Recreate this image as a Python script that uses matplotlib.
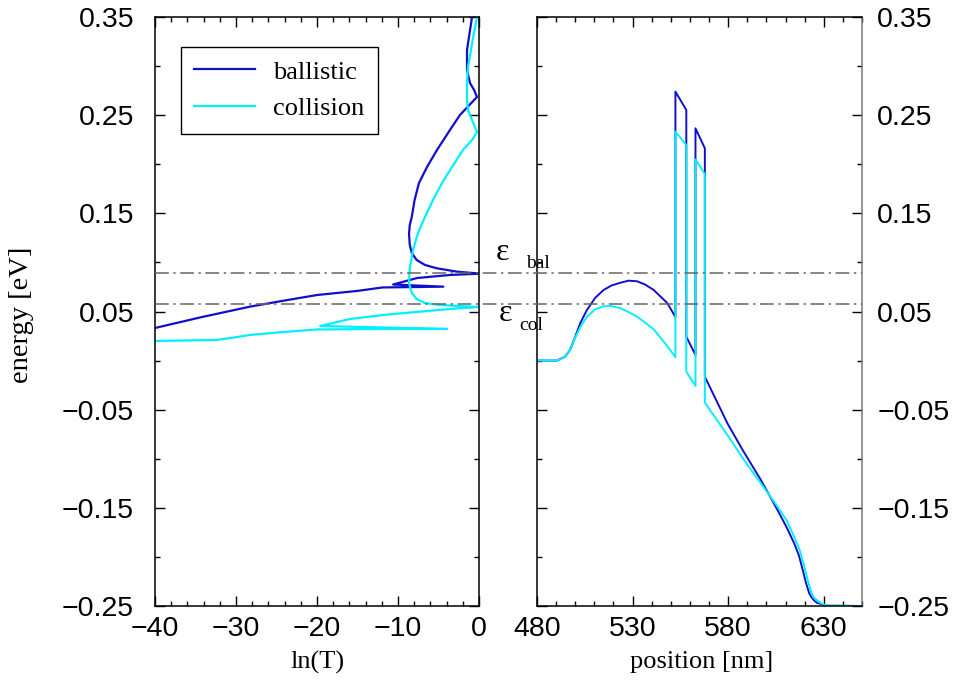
import matplotlib
matplotlib.use('Agg')
import matplotlib.pyplot as plt
import matplotlib.transforms as mtransforms
from matplotlib.lines import Line2D
from matplotlib.ticker import MultipleLocator, FuncFormatter

# left panel: ln(T) against energy, ordered by energy
bal_lnT = [-40, -34.4, -28.3, -24.0, -20.0, -15.0, -11.9, -4.4, -10.6, -7.65, -3.6, 0.0,
           -0.3, -2.75, -5.2, -6.67, -7.7, -8.3, -8.55, -8.64, -8.55, -8.3, -7.95, -7.41, -6.42, -5.19,
           -3.83, -2.35, -0.25, -0.6, -1.11, -1.48, -1.48, -0.86]
bal_E = [0.0332, 0.044, 0.0549, 0.0612, 0.0668, 0.071, 0.0745, 0.0753, 0.0775, 0.0841, 0.0872, 0.0885,
         0.0889, 0.0906, 0.094, 0.0974, 0.1025, 0.1096, 0.1180, 0.1290, 0.1380, 0.1463, 0.1636, 0.1809, 0.1972, 0.2145,
         0.2318, 0.2502, 0.2685, 0.2755, 0.2828, 0.296, 0.3164, 0.35]

col_lnT = [-40, -32.4, -30.0, -28.3, -24.2, -20.0, -12.0, -3.95, -19.6, -15.9, -11.9, -3.6, 0.0,
           -2.5, -4.8, -6.7, -7.7, -8.3, -8.64, -8.6, -8.52, -8.15, -7.53, -6.67, -5.68,
           -4.57, -3.33, -1.98, -0.86, -0.25, -0.86, -1.36, -1.48, -1.48, -1.36, -0.62, -0.25]
col_E = [0.0200, 0.0210, 0.0238, 0.0261, 0.0291, 0.0317, 0.0322, 0.0322, 0.0352, 0.0424, 0.0464, 0.0526, 0.0546,
         0.0556, 0.0566, 0.0587, 0.0627, 0.0689, 0.0790, 0.0870, 0.0953, 0.1127, 0.1300, 0.1463, 0.1636,
         0.1809, 0.1972, 0.2145, 0.2247, 0.2329, 0.2451, 0.2553, 0.2655, 0.2828, 0.2991, 0.3337, 0.35]

# right panel: band profile
pos_bal = [480, 490.5, 494.7, 497.3, 500.0, 502.6, 506.1, 510.4, 514.8, 519.0, 523.6, 527.9, 532.3,
           536.5, 541.0, 548.1, 552.4, 552.4, 558.1, 558.1, 562.9, 562.9, 567.8, 567.8,
           579.6, 588.0, 597.1, 605.8, 610.5, 614.5, 617.0, 619.0, 620.7, 622.4, 623.7, 625.0,
           626.5, 628.6, 630.0, 632.0, 650]
E_bal = [0.0, 0.0, 0.004, 0.0108, 0.0243, 0.038, 0.0515, 0.0638, 0.0719, 0.0765, 0.0793, 0.0814, 0.0808,
         0.0775, 0.072, 0.0587, 0.0444, 0.274, 0.2553, 0.0244, 0.0057, 0.2366, 0.2163, -0.0164,
         -0.0639, -0.0925, -0.1216, -0.1522, -0.1695, -0.1861, -0.1985, -0.2133, -0.2265, -0.2371, -0.2415, -0.2445,
         -0.2468, -0.2479, -0.249, -0.2497, -0.25]

pos_col = [480, 490.5, 494.7, 497.3, 500.0, 502.6, 506.1, 510.4, 514.8, 518.3, 523.6, 528.0, 532.3,
           536.5, 541.0, 548.1, 552.4, 552.4, 558.1, 558.1, 562.9, 562.9, 567.8, 567.8,
           579.6, 588.0, 597.1, 605.8, 610.5, 614.5, 617.5, 619.8, 621.6, 623.3, 624.7, 626.0,
           627.5, 628.6, 630.5, 632.0, 650]
E_col = [0.0, 0.0, 0.004, 0.0105, 0.0235, 0.034, 0.0447, 0.0522, 0.0552, 0.0558, 0.0533, 0.0494, 0.0447,
         0.0388, 0.0319, 0.0149, 0.0034, 0.2332, 0.2196, -0.0113, -0.0259, 0.205, 0.190, -0.0429,
         -0.0758, -0.1005, -0.125, -0.1488, -0.1625, -0.1794, -0.1935, -0.21, -0.2235, -0.2354, -0.2410, -0.2435,
         -0.2458, -0.2472, -0.2488, -0.2495, -0.25]

eps_bal = 0.0892
eps_col = 0.0576

blue = '#1010cc'
cyan = '#00f0ff'
gray = '#666666'
sans = ['Liberation Sans', 'DejaVu Sans']
serif = ['Liberation Serif', 'DejaVu Serif']

plt.rcParams['font.family'] = sans
plt.rcParams['axes.unicode_minus'] = True

fig = plt.figure(figsize=(9.54, 6.84), dpi=100)
ax1 = fig.add_axes([155 / 954, 78 / 684, 324 / 954, 589 / 684])
ax2 = fig.add_axes([537 / 954, 78 / 684, 325 / 954, 589 / 684])

ax1.plot(bal_lnT, bal_E, color=blue, lw=1.6, label='ballistic')
ax1.plot(col_lnT, col_E, color=cyan, lw=1.6, label='collision')
ax2.plot(pos_bal, E_bal, color=blue, lw=1.4)
ax2.plot(pos_col, E_col, color=cyan, lw=1.4)

fmt = FuncFormatter(lambda v, p: ('%.2f' % v).replace('-', '\u2212'))
xfmt = FuncFormatter(lambda v, p: ('%d' % round(v)).replace('-', '\u2212'))

for ax in (ax1, ax2):
    ax.set_ylim(-0.25, 0.35)
    ax.set_yticks([-0.25, -0.15, -0.05, 0.05, 0.15, 0.25, 0.35])
    ax.yaxis.set_minor_locator(MultipleLocator(0.05))
    ax.yaxis.set_major_formatter(fmt)
    ax.tick_params(which='both', direction='in', top=True, right=True, labelsize=20.5, width=1)
    ax.tick_params(which='major', length=7)
    ax.tick_params(which='minor', length=3.5)
    ax.tick_params(axis='x', pad=7)
    for s in ax.spines.values():
        s.set_linewidth(1.1)

ax1.tick_params(axis='y', pad=15)
ax2.tick_params(axis='y', pad=11)

ax1.set_xlim(-40, 0)
ax1.xaxis.set_major_locator(MultipleLocator(10))
ax1.xaxis.set_minor_locator(MultipleLocator(2))
ax1.xaxis.set_major_formatter(xfmt)

ax2.set_xlim(480, 650)
ax2.set_xticks([480, 530, 580, 630])
ax2.xaxis.set_minor_locator(MultipleLocator(10))
ax2.tick_params(labelleft=False, labelright=True)
ax2.spines['right'].set_color('#777777')

# dash-dot levels across both panels
trans = mtransforms.blended_transform_factory(fig.transFigure, ax1.transData)
for lev in (eps_bal, eps_col):
    fig.add_artist(Line2D([155 / 954, 862 / 954], [lev, lev], transform=trans,
                          color=gray, lw=1.1, linestyle=(0, (9, 3, 1.5, 3))))

leg = ax1.legend(loc='upper left', bbox_to_anchor=(0.08, 0.949), borderaxespad=0,
                 fancybox=False, edgecolor='black', framealpha=1,
                 prop={'family': serif, 'size': 19}, handlelength=2.3,
                 handletextpad=0.7, labelspacing=0.5, borderpad=0.5)
leg.get_frame().set_linewidth(1.0)

fig.text(22 / 954, 1 - 315 / 684, 'energy [eV]', rotation=90, ha='center', va='center',
         family=serif, fontsize=20.5)
fig.text(318 / 954, 1 - 662 / 684, 'ln(T)', ha='center', va='center', family=serif, fontsize=19)
fig.text(702 / 954, 1 - 662 / 684, 'position [nm]', ha='center', va='center', family=serif, fontsize=19)

fig.text(496 / 954, 1 - 252 / 684, '\u03b5', ha='left', va='center', family=serif, fontsize=23)
fig.text(526 / 954, 1 - 264 / 684, 'bal', ha='left', va='center', family=serif, fontsize=14)
fig.text(499 / 954, 1 - 314 / 684, '\u03b5', ha='left', va='center', family=serif, fontsize=23)
fig.text(519 / 954, 1 - 326 / 684, 'col', ha='left', va='center', family=serif, fontsize=14)

fig.savefig('out.png', dpi=100)
